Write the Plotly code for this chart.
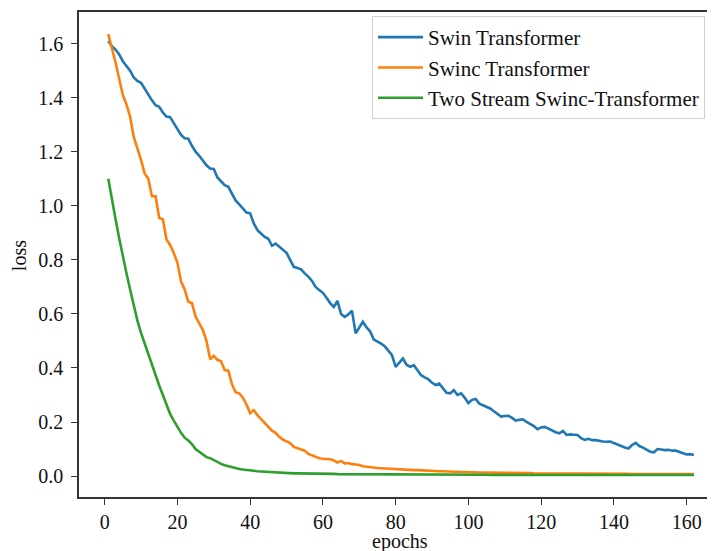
import plotly.graph_objects as go

epochs = list(range(1, 163))

swin = [
    1.610, 1.590, 1.578, 1.560, 1.535, 1.518, 1.500, 1.475, 1.462, 1.455,
    1.432, 1.410, 1.390, 1.372, 1.366, 1.345, 1.330, 1.328, 1.305, 1.285,
    1.262, 1.250, 1.248, 1.222, 1.200, 1.185, 1.168, 1.150, 1.138, 1.136,
    1.105, 1.090, 1.076, 1.070, 1.045, 1.020, 1.005, 0.990, 0.975, 0.972,
    0.935, 0.910, 0.897, 0.885, 0.878, 0.852, 0.860, 0.848, 0.838, 0.826,
    0.800, 0.774, 0.770, 0.765, 0.750, 0.738, 0.722, 0.700, 0.688, 0.678,
    0.660, 0.640, 0.626, 0.648, 0.600, 0.589, 0.598, 0.612, 0.528, 0.548,
    0.571, 0.550, 0.535, 0.505, 0.498, 0.490, 0.480, 0.465, 0.447, 0.404,
    0.420, 0.435, 0.412, 0.404, 0.410, 0.390, 0.373, 0.365, 0.358, 0.345,
    0.337, 0.342, 0.325, 0.308, 0.306, 0.318, 0.300, 0.306, 0.290, 0.270,
    0.282, 0.285, 0.268, 0.262, 0.256, 0.250, 0.240, 0.230, 0.220, 0.222,
    0.223, 0.215, 0.205, 0.208, 0.210, 0.200, 0.192, 0.185, 0.173, 0.180,
    0.182, 0.175, 0.168, 0.162, 0.158, 0.167, 0.152, 0.154, 0.153, 0.152,
    0.140, 0.134, 0.138, 0.133, 0.133, 0.130, 0.128, 0.127, 0.128, 0.122,
    0.116, 0.111, 0.106, 0.102, 0.115, 0.123, 0.111, 0.105, 0.098, 0.090,
    0.088, 0.100, 0.098, 0.096, 0.097, 0.094, 0.094, 0.090, 0.084, 0.080,
    0.081, 0.078,
]

swinc = [
    1.635, 1.585, 1.530, 1.470, 1.410, 1.375, 1.330, 1.255, 1.215, 1.170,
    1.120, 1.100, 1.035, 1.035, 0.955, 0.950, 0.875, 0.855, 0.825, 0.790,
    0.720, 0.690, 0.645, 0.640, 0.590, 0.565, 0.540, 0.500, 0.432, 0.445,
    0.430, 0.425, 0.392, 0.390, 0.340, 0.310, 0.306, 0.290, 0.265, 0.232,
    0.244, 0.225, 0.210, 0.195, 0.180, 0.168, 0.160, 0.145, 0.135, 0.128,
    0.122, 0.108, 0.104, 0.100, 0.094, 0.082, 0.076, 0.070, 0.066, 0.064,
    0.064, 0.062, 0.058, 0.050, 0.056, 0.047, 0.048, 0.044, 0.043, 0.041,
    0.036, 0.034, 0.032, 0.031, 0.030, 0.029, 0.028, 0.027, 0.026, 0.026,
    0.025, 0.024, 0.024, 0.023, 0.022, 0.022, 0.021, 0.020, 0.020, 0.019,
    0.019, 0.018, 0.018, 0.017, 0.017, 0.016, 0.016, 0.015, 0.015, 0.014,
    0.014, 0.014, 0.013, 0.013, 0.013, 0.013, 0.012, 0.012, 0.012, 0.012,
    0.012, 0.011, 0.011, 0.011, 0.011, 0.011, 0.011, 0.010, 0.010, 0.010,
    0.010, 0.010, 0.010, 0.010, 0.009, 0.009, 0.009, 0.009, 0.009, 0.009,
    0.009, 0.009, 0.008, 0.008, 0.008, 0.008, 0.008, 0.008, 0.008, 0.008,
    0.008, 0.008, 0.008, 0.008, 0.007, 0.007, 0.007, 0.007, 0.007, 0.007,
    0.007, 0.007, 0.007, 0.007, 0.007, 0.007, 0.007, 0.007, 0.007, 0.007,
    0.007, 0.007,
]

two_stream = [
    1.100, 1.020, 0.950, 0.880, 0.810, 0.750, 0.690, 0.630, 0.575, 0.530,
    0.490, 0.455, 0.410, 0.370, 0.335, 0.300, 0.265, 0.230, 0.205, 0.180,
    0.160, 0.142, 0.132, 0.118, 0.100, 0.090, 0.080, 0.070, 0.066, 0.058,
    0.052, 0.045, 0.040, 0.036, 0.032, 0.029, 0.026, 0.024, 0.022, 0.020,
    0.019, 0.018, 0.017, 0.016, 0.015, 0.014, 0.013, 0.012, 0.012, 0.011,
    0.011, 0.010, 0.010, 0.010, 0.009, 0.009, 0.009, 0.009, 0.008, 0.008,
    0.008, 0.008, 0.008, 0.007, 0.007, 0.007, 0.007, 0.007, 0.007, 0.006,
    0.006, 0.006, 0.006, 0.006, 0.006, 0.006, 0.006, 0.006, 0.006, 0.006,
    0.006, 0.006, 0.006, 0.006, 0.005, 0.005, 0.005, 0.005, 0.005, 0.005,
    0.005, 0.005, 0.005, 0.005, 0.005, 0.005, 0.005, 0.005, 0.005, 0.005,
    0.005, 0.005, 0.005, 0.005, 0.005, 0.004, 0.004, 0.004, 0.004, 0.004,
    0.004, 0.004, 0.004, 0.004, 0.004, 0.004, 0.004, 0.004, 0.004, 0.004,
    0.004, 0.004, 0.004, 0.004, 0.004, 0.004, 0.004, 0.004, 0.004, 0.004,
    0.004, 0.004, 0.004, 0.004, 0.004, 0.004, 0.004, 0.004, 0.004, 0.004,
    0.004, 0.004, 0.004, 0.004, 0.004, 0.004, 0.004, 0.004, 0.004, 0.004,
    0.004, 0.004, 0.004, 0.004, 0.004, 0.004, 0.004, 0.004, 0.004, 0.004,
    0.004, 0.004,
]

series_names = ["Swin Transformer", "Swinc Transformer", "Two Stream Swinc-Transformer"]
series_values = [swin, swinc, two_stream]
colors = ["#1f77b4", "#ff7f0e", "#2ca02c"]

x_ticks = [0, 20, 40, 60, 80, 100, 120, 140, 160]
y_ticks = [0.0, 0.2, 0.4, 0.6, 0.8, 1.0, 1.2, 1.4, 1.6]
y_tick_labels = ["0.0", "0.2", "0.4", "0.6", "0.8", "1.0", "1.2", "1.4", "1.6"]

FONT = "Liberation Serif, Times New Roman, serif"
AXIS_COLOR = "#333333"
TEXT_COLOR = "#111111"

fig = go.Figure()
for name, vals, col in zip(series_names, series_values, colors):
    fig.add_trace(go.Scatter(
        x=epochs[:len(vals)], y=vals, mode="lines", name=name,
        line=dict(color=col, width=2.6),
    ))

# The page body has an 8px margin; the figure is sized so that the plot lands
# where it sits in the reference (plot area from x=79 to 715, y=12 to 497).
fig.update_layout(
    width=707, height=543,
    margin=dict(l=71, r=0, t=4, b=54),
    paper_bgcolor="white", plot_bgcolor="white",
    font=dict(family=FONT, size=20, color=TEXT_COLOR),
    showlegend=True,
    legend=dict(
        x=(372 - 79) / 636, y=1 - (16 - 12) / 485, xanchor="left", yanchor="top",
        bgcolor="white", bordercolor="#d0d0d0", borderwidth=1,
        font=dict(family=FONT, size=21, color=TEXT_COLOR),
        tracegroupgap=0, itemwidth=45,
    ),
    xaxis=dict(
        range=[-7.05, 167.8], tickvals=x_ticks, ticktext=[str(v) for v in x_ticks],
        showgrid=False, zeroline=False, showline=True, linecolor=AXIS_COLOR,
        linewidth=1.5, mirror=True, ticks="outside", ticklen=6, tickwidth=1.3,
        tickcolor=AXIS_COLOR, tickfont=dict(family=FONT, size=20, color=TEXT_COLOR),
    ),
    yaxis=dict(
        range=[-0.0775, 1.717], tickvals=y_ticks, ticktext=y_tick_labels,
        showgrid=False, zeroline=False, showline=True, linecolor=AXIS_COLOR,
        linewidth=1.5, mirror=False, ticks="outside", ticklen=6, tickwidth=1.3,
        tickcolor=AXIS_COLOR, ticklabelstandoff=4,
        tickfont=dict(family=FONT, size=20, color=TEXT_COLOR),
    ),
    annotations=[
        dict(text="epochs", xref="paper", yref="paper", x=(400 - 79) / 636,
             y=-(548 - 497) / 485.3, xanchor="center", yanchor="bottom",
             showarrow=False, font=dict(family=FONT, size=20, color=TEXT_COLOR),
             yshift=-7),
        dict(text="loss", xref="paper", yref="paper", x=-(79 - 19) / 636,
             y=(497 - 255) / 485.3, xanchor="center", yanchor="middle",
             textangle=-90, showarrow=False,
             font=dict(family=FONT, size=20, color=TEXT_COLOR)),
    ],
)

fig.write_html("out.html")
